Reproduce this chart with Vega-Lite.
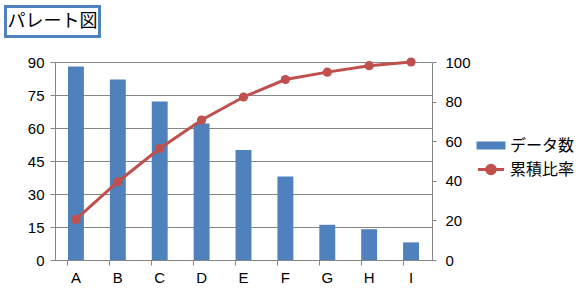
{
  "$schema": "https://vega.github.io/schema/vega-lite/v6.json",
  "autosize": {"type": "none"},
  "padding": {"left": 55, "top": 62, "right": 152, "bottom": 33},
  "width": 377,
  "height": 198,
  "background": "white",
  "view": {"stroke": null},
  "config": {
    "font": "Liberation Sans",
    "legend": {"strokeWidth": 3},
    "axis": {
      "labelFont": "Liberation Sans",
      "labelFontSize": 15,
      "labelColor": "#000000",
      "domainColor": "#868686",
      "tickColor": "#868686",
      "gridColor": "#868686",
      "title": null
    }
  },
  "data": {
    "values": [
      {"cat": "A", "count": 88, "cum": 20.47, "chart": "パレート図"},
      {"cat": "B", "count": 82, "cum": 39.53, "chart": "パレート図"},
      {"cat": "C", "count": 72, "cum": 56.28, "chart": "パレート図"},
      {"cat": "D", "count": 62, "cum": 70.70, "chart": "パレート図"},
      {"cat": "E", "count": 50, "cum": 82.33, "chart": "パレート図"},
      {"cat": "F", "count": 38, "cum": 91.16, "chart": "パレート図"},
      {"cat": "G", "count": 16, "cum": 94.88, "chart": "パレート図"},
      {"cat": "H", "count": 14, "cum": 98.14, "chart": "パレート図"},
      {"cat": "I", "count": 8, "cum": 100, "chart": "パレート図"}
    ]
  },
  "encoding": {
    "x": {
      "field": "cat",
      "type": "nominal",
      "scale": {"paddingInner": 0.62, "paddingOuter": 0.31},
      "axis": {
        "labelAngle": 0,
        "bandPosition": 0,
        "tickSize": 5,
        "labelPadding": 5
      }
    }
  },
  "layer": [
    {
      "mark": {"type": "bar", "color": "#4f81bd"},
      "encoding": {
        "y": {
          "field": "count",
          "type": "quantitative",
          "scale": {"domain": [0, 90], "nice": false},
          "axis": {
            "values": [0, 15, 30, 45, 60, 75, 90],
            "grid": true,
            "tickSize": 5,
            "labelPadding": 6
          }
        },
        "strokeDash": {
          "field": "chart",
          "type": "nominal",
          "scale": {"range": [[1, 0]]},
          "legend": {
            "orient": "none",
            "legendX": -49.5,
            "legendY": -55.5,
            "padding": 2,
            "title": null,
            "strokeColor": "#4f81bd",
            "symbolSize": 676,
            "symbolOpacity": 0,
            "symbolStrokeWidth": 0,
            "labelOffset": -26,
            "labelFont": "Noto Sans CJK JP",
            "labelFontSize": 18,
            "labelColor": "#000000",
            "encode": {
              "legend": {
                "update": {
                  "stroke": {"value": "#4f81bd"},
                  "strokeWidth": {"value": 3},
                  "strokeOpacity": {"value": 1}
                }
              }
            }
          }
        },
        "color": {
          "datum": "データ数",
          "scale": {"domain": ["データ数", "累積比率"], "range": ["#4f81bd", "#c0504d"]},
          "legend": {
            "orient": "none",
            "legendX": 421.5,
            "legendY": 69,
            "padding": 0,
            "title": null,
            "labelFont": "Noto Sans CJK JP",
            "labelFontSize": 16,
            "labelColor": "#000000",
            "labelOffset": 4.5,
            "symbolSize": 676,
            "symbolStrokeWidth": 0,
            "rowPadding": -2.5,
            "encode": {
              "symbols": {
                "update": {
                  "shape": {"signal": "datum.value === 'データ数' ? 'M-1,-0.2H1V0.2H-1Z' : 'M-1,0H1M0.33,0A0.33,0.33 0 1,1 -0.33,0A0.33,0.33 0 1,1 0.33,0Z'"},
                  "fill": {"signal": "datum.value === 'データ数' ? '#4f81bd' : '#c0504d'"},
                  "stroke": {"signal": "datum.value === 'データ数' ? 'transparent' : '#c0504d'"},
                  "strokeWidth": {"value": 3},
                  "opacity": {"value": 1},
                  "fillOpacity": {"value": 1}
                }
              }
            }
          }
        }
      }
    },
    {
      "mark": {"type": "line", "color": "#c0504d", "strokeWidth": 3, "point": {"filled": true, "size": 85, "color": "#c0504d", "opacity": 1}},
      "encoding": {
        "y": {
          "field": "cum",
          "type": "quantitative",
          "scale": {"domain": [0, 100], "nice": false},
          "axis": {
            "orient": "right",
            "values": [0, 20, 40, 60, 80, 100],
            "grid": false,
            "tickSize": 4,
            "labelPadding": 9
          }
        },
        "color": {"datum": "累積比率"}
      }
    }
  ],
  "resolve": {"scale": {"y": "independent"}}
}
